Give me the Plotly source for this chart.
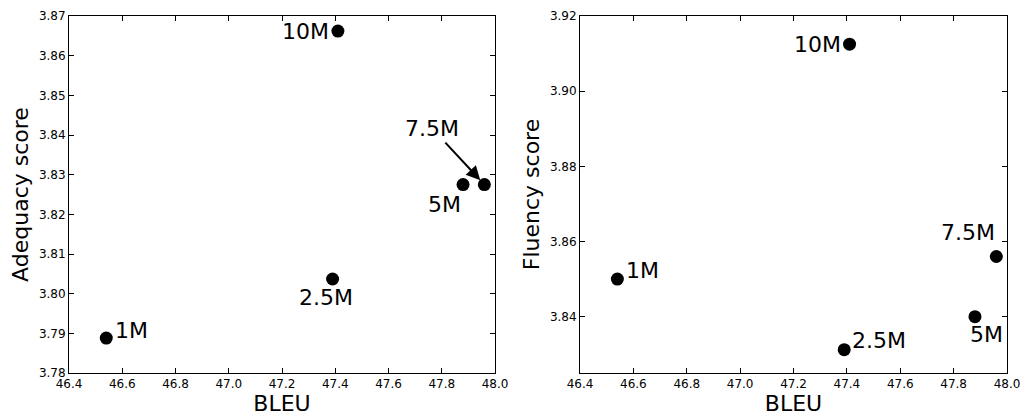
import plotly.graph_objects as go

# ---- data ----
sizes = ["1M", "2.5M", "5M", "7.5M", "10M"]
bleu = [46.54, 47.39, 47.88, 47.96, 47.41]
adequacy = [3.7888, 3.8037, 3.8275, 3.8275, 3.8662]
fluency = [3.8500, 3.8312, 3.8400, 3.8560, 3.9125]

x_ticks = [46.4, 46.6, 46.8, 47.0, 47.2, 47.4, 47.6, 47.8, 48.0]
adeq_ticks = [3.78, 3.79, 3.80, 3.81, 3.82, 3.83, 3.84, 3.85, 3.86, 3.87]
flu_ticks = [3.84, 3.86, 3.88, 3.90, 3.92]

FONT = "DejaVu Sans"
W, H = 1021, 416

# label placement styles (pixel shifts)
left_style = {
    "1M": dict(xanchor="left", yanchor="middle", xshift=7, yshift=8),
    "2.5M": dict(xanchor="center", yanchor="middle", xshift=-7, yshift=-19),
    "5M": dict(xanchor="center", yanchor="middle", xshift=-19, yshift=-20),
    "10M": dict(xanchor="right", yanchor="middle", xshift=-7, yshift=0),
}
right_style = {
    "1M": dict(xanchor="left", yanchor="middle", xshift=7, yshift=9),
    "2.5M": dict(xanchor="left", yanchor="middle", xshift=6, yshift=9),
    "5M": dict(xanchor="center", yanchor="middle", xshift=12, yshift=-18),
    "7.5M": dict(xanchor="right", yanchor="middle", xshift=1, yshift=24),
    "10M": dict(xanchor="right", yanchor="middle", xshift=-7, yshift=0),
}

fig = go.Figure()
fig.add_trace(go.Scatter(x=bleu, y=adequacy, mode="markers",
                         marker=dict(color="black", size=13),
                         xaxis="x", yaxis="y", showlegend=False, hoverinfo="skip"))
fig.add_trace(go.Scatter(x=bleu, y=fluency, mode="markers",
                         marker=dict(color="black", size=13),
                         xaxis="x2", yaxis="y2", showlegend=False, hoverinfo="skip"))

annotations = []
for s, xv, yv in zip(sizes, bleu, adequacy):
    if s in left_style:
        annotations.append(dict(x=xv, y=yv, xref="x", yref="y", text=s,
                                showarrow=False, font=dict(family=FONT, size=22, color="black"),
                                **left_style[s]))
    else:
        annotations.append(dict(x=xv, y=yv, xref="x", yref="y", text=s,
                                showarrow=True, arrowhead=2, arrowsize=1.4, arrowwidth=2,
                                arrowcolor="black", ax=-52, ay=-56, standoff=6,
                                font=dict(family=FONT, size=22, color="black")))
for s, xv, yv in zip(sizes, bleu, fluency):
    annotations.append(dict(x=xv, y=yv, xref="x2", yref="y2", text=s,
                            showarrow=False, font=dict(family=FONT, size=22, color="black"),
                            **right_style[s]))

axis_common = dict(showline=True, linecolor="black", linewidth=1, mirror="ticks",
                   ticks="inside", ticklen=5, tickcolor="black", tickwidth=1,
                   showgrid=False, zeroline=False, automargin=False,
                   tickfont=dict(family=FONT, size=12, color="black"))

fig.update_layout(
    width=W, height=H,
    margin=dict(l=0, r=0, t=0, b=0, autoexpand=False),
    paper_bgcolor="white", plot_bgcolor="white",
    font=dict(family=FONT, color="black"),
    annotations=annotations,
    xaxis=dict(domain=[69 / W, 495 / W], range=[46.4, 48.0], tickvals=x_ticks,
               tickformat=".1f", anchor="y",
               title=dict(text="BLEU", font=dict(family=FONT, size=22), standoff=2),
               **axis_common),
    yaxis=dict(domain=[1 - 373 / H, 1 - 16 / H], range=[3.78, 3.87], tickvals=adeq_ticks,
               tickformat=".2f", anchor="x",
               title=dict(text="Adequacy score", font=dict(family=FONT, size=22), standoff=4),
               **axis_common),
    xaxis2=dict(domain=[580 / W, 1007 / W], range=[46.4, 48.0], tickvals=x_ticks,
                tickformat=".1f", anchor="y2",
                title=dict(text="BLEU", font=dict(family=FONT, size=22), standoff=2),
                **axis_common),
    yaxis2=dict(domain=[1 - 373 / H, 1 - 16 / H], range=[3.825, 3.92], tickvals=flu_ticks,
                tickformat=".2f", anchor="x2",
                title=dict(text="Fluency score", font=dict(family=FONT, size=22), standoff=4),
                **axis_common),
)

fig.write_html("out.html",
               config={"displayModeBar": False},
               post_script="document.body.style.margin='0';document.body.style.overflow='hidden';")
